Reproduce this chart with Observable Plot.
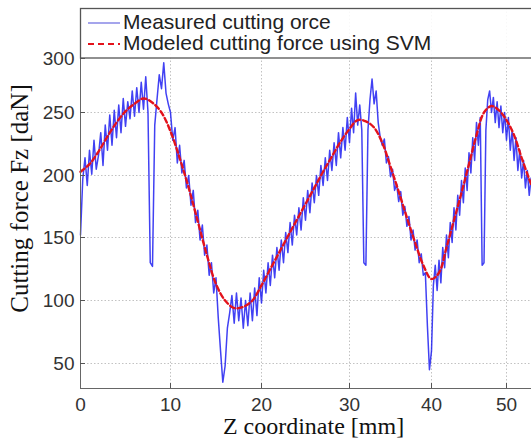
<!DOCTYPE html>
<html><head><meta charset="utf-8">
<script src="https://cdn.jsdelivr.net/npm/d3@7"></script>
<script src="https://cdn.jsdelivr.net/npm/@observablehq/plot@0.6"></script>
<style>
html,body{margin:0;padding:0;background:#fff;}
#chart{position:relative;width:531px;height:444px;overflow:hidden;}
#legend{position:absolute;left:0;top:0;pointer-events:none;}
</style></head><body><div id="chart"></div>
<script>
const zTicks = [0, 10, 20, 30, 40, 50];
const forceTicks = [50, 100, 150, 200, 250, 300];
const legendLabels = ["Measured cutting orce", "Modeled cutting force using SVM"];
const xTitle = "Z coordinate [mm]";
const yTitle = "Cutting force Fz [daN]";

// Modeled cutting force (SVM)
const modelZ = [0,1,2,3,4,5,6,7,8,9,10,11,12,13,14,15,16,17,18,19,20,21,22,23,24,25,26,27,28,29,30,31,32,33,34,35,36,37,38,39,40,41,42,43,44,45,46,47,48,49,50,51,52,53,53.5];
const modelForce = [203,209,219,231,242,251,258,263,259,250,235,214,190,163,136,113,100,94,95,100,112,125,138,151,164,177,190,203,215,227,237,244,243,238,226,207,187,166,146,128,117,122,142,164,186,209,232,250,256,252,244,232,214,197,189];

// Measured cutting force, sampled every 0.25 mm from z = 0
const measuredStep = 0.25;
const measuredForce = [
152,197,214,192,
220,201,228,205,
216,234,208,240,
220,248,224,252,
230,257,234,263,
239,260,245,270,
247,273,250,278,
253,283,250,130,
127,240,262,285,
272,296,268,258,
250,228,238,210,
224,202,212,190,
200,176,188,162,
172,148,160,136,
144,120,130,106,
118,86,60,35,
48,78,90,104,
82,106,84,102,
78,100,80,106,
84,110,88,118,
98,124,106,130,
112,136,118,142,
124,148,130,154,
138,162,144,168,
152,174,156,182,
164,188,170,194,
178,200,184,208,
192,214,196,220,
204,226,208,234,
214,238,220,246,
226,254,234,268,
240,257,236,130,
128,236,262,281,
258,270,242,230,
224,229,210,215,
199,205,188,193,
179,187,168,175,
159,167,148,156,
140,148,130,137,
120,122,80,45,
60,112,128,108,
132,114,142,126,
152,134,162,146,
174,156,184,168,
196,178,206,188,
218,202,230,212,
242,224,246,128,
130,236,262,270,
250,264,242,260,
238,256,234,250,
228,246,220,236,
212,230,204,220,
198,212,190,204,
184,198,178
];

const measured = measuredForce.map((f, i) => ({z: i * measuredStep, f}));
const model = modelZ.map((z, i) => ({z, f: modelForce[i]}));

// The printed figure is slightly non-uniform: warp values so tick spacing matches it.
function makeWarp(knots, pix) {
  const p = d3.scaleLinear().domain(knots).range(pix);
  const lo = knots[0], hi = knots[knots.length - 1];
  const p0 = pix[0], p1 = pix[pix.length - 1];
  return v => lo + (p(v) - p0) / (p1 - p0) * (hi - lo);
}
const warpX = makeWarp([0, 10, 20, 30, 40, 50, 53.3], [80, 170, 261, 349, 431, 506, 531]);
const warpY = makeWarp([30, 50, 100, 150, 200, 250, 300, 346], [388, 363, 300, 237, 175, 112, 58, 8]);

const W = 531, H = 444;
const serif = "'Liberation Serif', 'Times New Roman', serif";
const chart = Plot.plot({
  width: W, height: H,
  marginLeft: 80, marginRight: 0, marginTop: 8, marginBottom: 56,
  style: {background: "white", fontFamily: "'Liberation Sans', Arial, sans-serif", overflow: "hidden"},
  x: {domain: [0, 53.3], transform: warpX, label: null},
  y: {domain: [30, 346], transform: warpY, label: null},
  marks: [
    Plot.gridX(zTicks.slice(1), {stroke: "#c2c2c2", strokeOpacity: 1, strokeDasharray: "1.5,2"}),
    Plot.gridY(forceTicks.slice(0, 5), {stroke: "#c2c2c2", strokeOpacity: 1, strokeDasharray: "1.5,2"}),
    Plot.line(measured, {x: "z", y: "f", stroke: "#0b0bf0", strokeWidth: 1.5, strokeOpacity: 0.78}),
    Plot.line(model, {x: "z", y: "f", stroke: "#e3121b", strokeWidth: 2.4, strokeDasharray: "5,3", curve: "catmull-rom"}),
    Plot.ruleX([0], {stroke: "#666"}),
    Plot.ruleY([30], {stroke: "#666"}),
    Plot.tickX(zTicks.slice(1), {x: d => d, stroke: "#555", insetTop: 375}),
    Plot.tickY(forceTicks, {y: d => d, stroke: "#555", insetRight: 446}),
    Plot.axisX(zTicks, {tickSize: 0, tickPadding: 9, fontSize: 19, fill: "#333", label: null}),
    Plot.axisY(forceTicks, {tickSize: 0, tickPadding: 6, fontSize: 19, fill: "#333", label: null}),
    Plot.text([xTitle], {text: d => d, frameAnchor: "bottom", textAnchor: "middle", lineAnchor: "middle", dx: 7.5, dy: 38, fontFamily: serif, fontSize: 24, fill: "#111"}),
    Plot.text([yTitle], {text: d => d, frameAnchor: "left", textAnchor: "middle", lineAnchor: "middle", rotate: -90, dx: -61, fontFamily: serif, fontSize: 25, fill: "#111"})
  ]
});
const root = document.getElementById("chart");
root.appendChild(chart);

// Legend box (inside the axes, at the top)
const svg = d3.select(root).append("svg").attr("id", "legend").attr("width", W).attr("height", H);
svg.append("rect").attr("x", 80.5).attr("y", 8.5).attr("width", 470).attr("height", 49.5)
  .attr("fill", "rgba(255,255,255,0.88)").attr("stroke", "#555").attr("stroke-width", 1.3);
svg.append("line").attr("x1", 88).attr("x2", 120).attr("y1", 23).attr("y2", 23)
  .attr("stroke", "#6a6ae0").attr("stroke-width", 1.2);
svg.append("line").attr("x1", 88).attr("x2", 120).attr("y1", 44).attr("y2", 44)
  .attr("stroke", "#e3121b").attr("stroke-width", 2.2).attr("stroke-dasharray", "6,4");
const lt = [29, 50];
legendLabels.forEach((t, i) => {
  svg.append("text").attr("x", 123).attr("y", lt[i]).text(t)
    .attr("font-family", "'Liberation Sans', Arial, sans-serif").attr("font-size", 21).attr("fill", "#222");
});
</script></body></html>
